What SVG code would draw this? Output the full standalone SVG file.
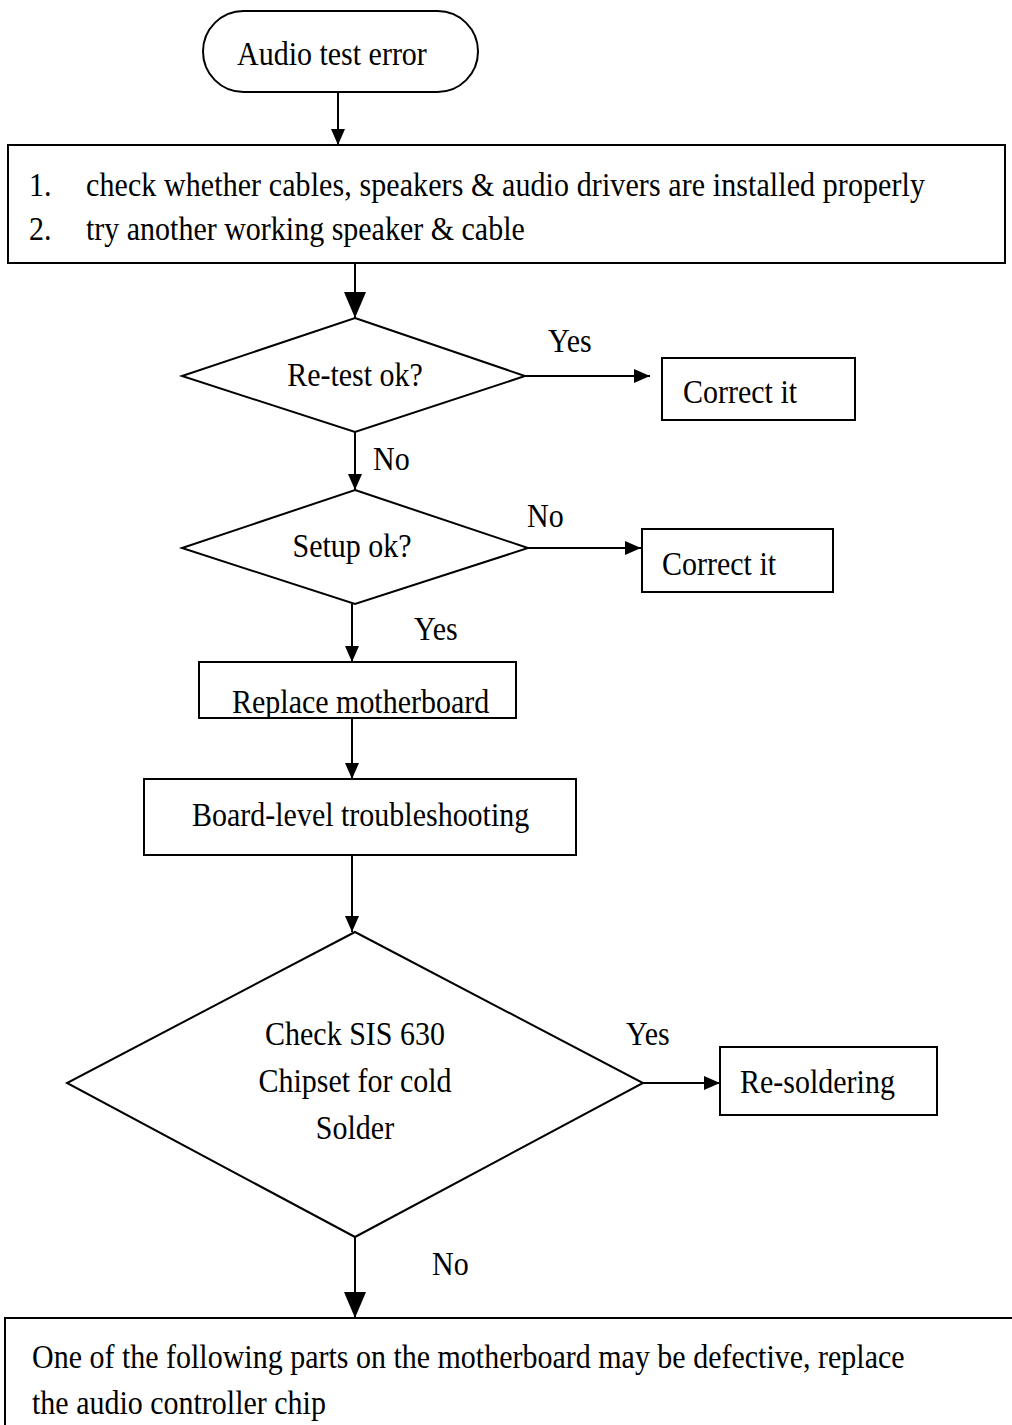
<svg xmlns="http://www.w3.org/2000/svg" width="1012" height="1425" viewBox="0 0 1012 1425">
<style>
.s{fill:#fff;stroke:#000;stroke-width:2}
.c{fill:none;stroke:#000;stroke-width:2}
.t{font-family:"Liberation Serif","Times New Roman",serif;font-size:30px;fill:#000}
</style>
<defs>
<marker id="a" markerUnits="userSpaceOnUse" markerWidth="16" markerHeight="14" refX="16" refY="7" orient="auto"><path d="M0,0 L16,7 L0,14 Z" fill="#000"/></marker>
<marker id="b" markerUnits="userSpaceOnUse" markerWidth="26" markerHeight="22" refX="26" refY="11" orient="auto"><path d="M0,0 L26,11 L0,22 Z" fill="#000"/></marker>
<clipPath id="clipR"><rect x="200" y="663" width="316" height="54"/></clipPath>
</defs>
<rect width="1012" height="1425" fill="#fff"/>
<g id="connectors">
<line class="c" x1="338" y1="92" x2="338" y2="145" marker-end="url(#a)"/>
<line class="c" x1="355" y1="263" x2="355" y2="318" marker-end="url(#b)"/>
<line class="c" x1="525" y1="376" x2="650" y2="376" marker-end="url(#a)"/>
<line class="c" x1="355" y1="432" x2="355" y2="490" marker-end="url(#a)"/>
<line class="c" x1="528" y1="548" x2="641" y2="548" marker-end="url(#a)"/>
<line class="c" x1="352" y1="604" x2="352" y2="662" marker-end="url(#a)"/>
<line class="c" x1="352" y1="719" x2="352" y2="779" marker-end="url(#a)"/>
<line class="c" x1="352" y1="855" x2="352" y2="932" marker-end="url(#a)"/>
<line class="c" x1="643" y1="1083" x2="720" y2="1083" marker-end="url(#a)"/>
<line class="c" x1="355" y1="1237" x2="355" y2="1318" marker-end="url(#b)"/>
<text class="t" transform="translate(548 352) scale(1 1.15)">Yes</text>
<text class="t" transform="translate(373 470) scale(1 1.15)">No</text>
<text class="t" transform="translate(527 527) scale(1 1.15)">No</text>
<text class="t" transform="translate(414 640) scale(1 1.15)">Yes</text>
<text class="t" transform="translate(626 1045) scale(1 1.15)">Yes</text>
<text class="t" transform="translate(432 1275) scale(1 1.15)">No</text>
</g>
<g id="start">
<rect class="s" x="203" y="11" width="275" height="81" rx="40.5"/>
<text class="t" transform="translate(237 65) scale(1 1.15)">Audio test error</text>
</g>
<g id="check">
<rect class="s" x="8" y="145" width="997" height="118"/>
<text class="t" transform="translate(29 196) scale(1 1.15)">1.</text>
<text class="t" transform="translate(86 196) scale(1 1.15)" textLength="839" lengthAdjust="spacing">check whether cables, speakers &amp; audio drivers are installed properly</text>
<text class="t" transform="translate(29 240) scale(1 1.15)">2.</text>
<text class="t" transform="translate(86 240) scale(1 1.15)">try another working speaker &amp; cable</text>
</g>
<g id="retest">
<polygon class="s" points="355,318 525,376 355,432 182,376"/>
<text class="t" transform="translate(355 386) scale(1 1.15)" text-anchor="middle">Re-test ok?</text>
</g>
<g id="correct1">
<rect class="s" x="662" y="358" width="193" height="62"/>
<text class="t" transform="translate(683 403) scale(1 1.15)">Correct it</text>
</g>
<g id="setup">
<polygon class="s" points="355,490 528,548 355,604 182,548"/>
<text class="t" transform="translate(352 557) scale(1 1.15)" text-anchor="middle">Setup ok?</text>
</g>
<g id="correct2">
<rect class="s" x="642" y="529" width="191" height="63"/>
<text class="t" transform="translate(662 575) scale(1 1.15)">Correct it</text>
</g>
<g id="replace">
<rect class="s" x="199" y="662" width="317" height="56"/>
<g clip-path="url(#clipR)">
<text class="t" transform="translate(232 713) scale(1 1.15)">Replace motherboard</text>
</g>
</g>
<g id="board">
<rect class="s" x="144" y="779" width="432" height="76"/>
<text class="t" transform="translate(192 826) scale(1 1.15)">Board-level troubleshooting</text>
</g>
<g id="chipset">
<polygon class="s" points="355,932 643,1083 355,1237 67,1083"/>
<text class="t" transform="translate(355 1045) scale(1 1.15)" text-anchor="middle">Check SIS 630</text>
<text class="t" transform="translate(355 1092) scale(1 1.15)" text-anchor="middle">Chipset for cold</text>
<text class="t" transform="translate(355 1139) scale(1 1.15)" text-anchor="middle">Solder</text>
</g>
<g id="resolder">
<rect class="s" x="720" y="1047" width="217" height="68"/>
<text class="t" transform="translate(740 1093) scale(1 1.15)">Re-soldering</text>
</g>
<g id="parts">
<rect class="s" x="5" y="1318" width="1020" height="130"/>
<text class="t" transform="translate(32 1368) scale(1 1.15)">One of the following parts on the motherboard may be defective, replace</text>
<text class="t" transform="translate(32 1414) scale(1 1.15)">the audio controller chip</text>
</g>
</svg>
